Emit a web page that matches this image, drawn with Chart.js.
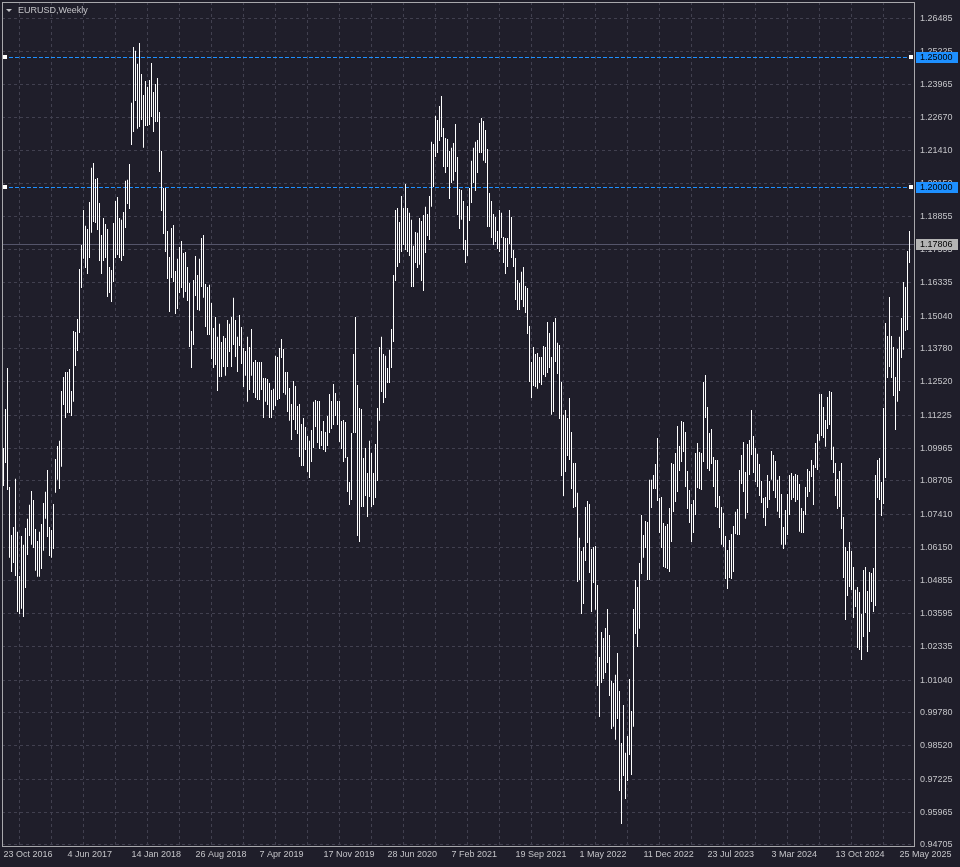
<!DOCTYPE html>
<html>
<head>
<meta charset="utf-8">
<script src="https://cdn.jsdelivr.net/npm/chart.js@4.4.1/dist/chart.umd.min.js"></script>
<style>
  html, body { margin: 0; padding: 0; background: #1f1e2a; overflow: hidden; }
  canvas { display: block; }
</style>
</head>
<body>
<canvas id="eurusdChart" width="960" height="867"></canvas>
<script>
const chartTitle = 'EURUSD,Weekly';

// one label every 32 weekly bars, first bar = week of 23 Oct 2016
const dateLabels = ['23 Oct 2016', '4 Jun 2017', '14 Jan 2018', '26 Aug 2018', '7 Apr 2019',
    '17 Nov 2019', '28 Jun 2020', '7 Feb 2021', '19 Sep 2021', '1 May 2022', '11 Dec 2022',
    '23 Jul 2023', '3 Mar 2024', '13 Oct 2024', '25 May 2025'];

const priceTicks = [1.26485, 1.25225, 1.23965, 1.22670, 1.21410, 1.20150, 1.18855, 1.17595,
    1.16335, 1.15040, 1.13780, 1.12520, 1.11225, 1.09965, 1.08705, 1.07410, 1.06150, 1.04855,
    1.03595, 1.02335, 1.01040, 0.99780, 0.98520, 0.97225, 0.95965, 0.94705];

const levelLines = [1.25000, 1.20000];
const lastPrice = 1.17806;

const weeklyHigh = [
    1.0997, 1.1147, 1.1304, 1.0847, 1.0662, 1.0693, 1.0878, 1.0674, 1.0504, 1.0658,
    1.0624, 1.0689, 1.0724, 1.0778, 1.0831, 1.0797, 1.0685, 1.0639, 1.0674, 1.0704,
    1.0785, 1.0828, 1.0912, 1.0693, 1.0681, 1.0781, 1.0954, 1.1004, 1.1024, 1.1216,
    1.1270, 1.1289, 1.1289, 1.1300, 1.1216, 1.1447, 1.1443, 1.1493, 1.1685, 1.1777,
    1.1912, 1.1851, 1.1839, 1.1943, 1.2074, 1.2093, 1.2031, 1.2035, 1.1939, 1.1816,
    1.1881, 1.1858, 1.1839, 1.1693, 1.1681, 1.1862, 1.1947, 1.1962, 1.1881, 1.1874,
    1.1904, 1.2024, 1.2028, 1.2089, 1.2324, 1.2539, 1.2524, 1.2474, 1.2554, 1.2435,
    1.2354, 1.2408, 1.2385, 1.2412, 1.2477, 1.2366, 1.2397, 1.2420, 1.2289, 1.2139,
    1.1997, 1.1997, 1.1831, 1.1731, 1.1843, 1.1854, 1.1677, 1.1724, 1.1770, 1.1793,
    1.1747, 1.1750, 1.1693, 1.1631, 1.1447, 1.1643, 1.1735, 1.1662, 1.1724, 1.1804,
    1.1816, 1.1627, 1.1616, 1.1624, 1.1554, 1.1458, 1.1500, 1.1424, 1.1474, 1.1404,
    1.1427, 1.1420, 1.1489, 1.1474, 1.1500, 1.1574, 1.1489, 1.1424, 1.1508, 1.1462,
    1.1381, 1.1370, 1.1424, 1.1385, 1.1454, 1.1327, 1.1335, 1.1327, 1.1327, 1.1327,
    1.1266, 1.1266, 1.1262, 1.1247, 1.1220, 1.1224, 1.1351, 1.1347, 1.1381, 1.1416,
    1.1377, 1.1289, 1.1289, 1.1227, 1.1166, 1.1254, 1.1235, 1.1158, 1.1166, 1.1089,
    1.1112, 1.1077, 1.1043, 1.1024, 1.1066, 1.1174, 1.1181, 1.1177, 1.1177, 1.1062,
    1.1100, 1.1058, 1.1120, 1.1204, 1.1177, 1.1243, 1.1208, 1.1177, 1.1177, 1.1100,
    1.1104, 1.1097, 1.0962, 1.0866, 1.1054, 1.1358, 1.1500, 1.1239, 1.1150, 1.1147,
    1.0958, 1.0997, 1.0900, 1.1024, 1.0977, 1.0900, 1.1012, 1.1150, 1.1385, 1.1424,
    1.1358, 1.1351, 1.1304, 1.1374, 1.1454, 1.1662, 1.1912, 1.1920, 1.1866, 1.1966,
    1.1920, 1.2012, 1.1920, 1.1901, 1.1874, 1.1774, 1.1827, 1.1824, 1.1881, 1.1870,
    1.1893, 1.1924, 1.1897, 1.1966, 1.2174, 1.2166, 1.2274, 1.2258, 1.2312, 1.2350,
    1.2227, 1.2189, 1.2185, 1.2139, 1.2151, 1.2170, 1.2243, 1.2116, 1.1993, 1.1989,
    1.1947, 1.1797, 1.1927, 1.1997, 1.2101, 1.2151, 1.2174, 1.2181, 1.2247, 1.2266,
    1.2254, 1.2220, 1.2147, 1.1977, 1.1947, 1.1897, 1.1885, 1.1831, 1.1912, 1.1901,
    1.1808, 1.1804, 1.1804, 1.1912, 1.1885, 1.1758, 1.1727, 1.1643, 1.1631, 1.1674,
    1.1693, 1.1620, 1.1612, 1.1466, 1.1327, 1.1385, 1.1358, 1.1362, 1.1347, 1.1347,
    1.1389, 1.1385, 1.1481, 1.1439, 1.1347, 1.1481, 1.1497, 1.1401, 1.1393, 1.1250,
    1.1124, 1.1143, 1.1112, 1.1189, 1.1058, 1.0939, 1.0939, 1.0824, 1.0651, 1.0600,
    1.0616, 1.0770, 1.0793, 1.0781, 1.0608, 1.0616, 1.0620, 1.0470, 1.0193, 1.0289,
    1.0266, 1.0304, 1.0377, 1.0277, 1.0101, 1.0093, 1.0124, 1.0208, 1.0062, 0.9862,
    1.0008, 0.9824, 0.9889, 1.0108, 0.9985, 1.0377, 1.0489, 1.0462, 1.0554, 1.0739,
    1.0662, 1.0716, 1.0712, 1.0874, 1.0874, 1.0893, 1.0935, 1.1035, 1.0804, 1.0808,
    1.0708, 1.0697, 1.0704, 1.0766, 1.0939, 1.0935, 1.0977, 1.1081, 1.1004, 1.1100,
    1.1097, 1.1058, 1.0908, 1.0835, 1.0781, 1.0797, 1.0977, 1.1016, 1.0981, 1.0977,
    1.1250, 1.1277, 1.1154, 1.1054, 1.1070, 1.0962, 1.0950, 1.0950, 1.0812, 1.0770,
    1.0747, 1.0658, 1.0604, 1.0643, 1.0666, 1.0697, 1.0751, 1.0762, 1.0912, 1.0970,
    1.1020, 1.0904, 1.1012, 1.1027, 1.1143, 1.1043, 1.0997, 1.0974, 1.0935, 1.0870,
    1.0804, 1.0808, 1.0893, 1.0870, 1.0985, 1.0970, 1.0947, 1.0874, 1.0889, 1.0820,
    1.0693, 1.0758, 1.0820, 1.0893, 1.0900, 1.0889, 1.0897, 1.0893, 1.0858, 1.0766,
    1.0754, 1.0847, 1.0916, 1.0908, 1.0950, 1.0931, 1.1016, 1.1050, 1.1204, 1.1204,
    1.1154, 1.1104, 1.1193, 1.1216, 1.1212, 1.1001, 1.0939, 1.0877, 1.0908, 1.0939,
    1.0731, 1.0616, 1.0600, 1.0635, 1.0600, 1.0539, 1.0451, 1.0462, 1.0443, 1.0358,
    1.0527, 1.0539, 1.0447, 1.0520, 1.0516, 1.0535, 1.0893, 1.0950, 1.0958, 1.0866,
    1.1150, 1.1477, 1.1427, 1.1577, 1.1427, 1.1385, 1.1270, 1.1377, 1.1424, 1.1497,
    1.1635, 1.1616, 1.1754, 1.1831
];

const weeklyLow = [
    1.0850, 1.0939, 1.0835, 1.0574, 1.0520, 1.0554, 1.0504, 1.0366, 1.0358, 1.0378,
    1.0347, 1.0458, 1.0585, 1.0658, 1.0624, 1.0612, 1.0524, 1.0501, 1.0501, 1.0531,
    1.0601, 1.0724, 1.0654, 1.0581, 1.0574, 1.0608, 1.0824, 1.0874, 1.0839, 1.0924,
    1.1162, 1.1112, 1.1131, 1.1131, 1.1120, 1.1174, 1.1312, 1.1370, 1.1439, 1.1612,
    1.1724, 1.1689, 1.1666, 1.1727, 1.1824, 1.1866, 1.1862, 1.1835, 1.1716, 1.1666,
    1.1716, 1.1727, 1.1577, 1.1593, 1.1558, 1.1635, 1.1727, 1.1739, 1.1727, 1.1716,
    1.1735, 1.1843, 1.1935, 1.1916, 1.2162, 1.2212, 1.2331, 1.2224, 1.2231, 1.2258,
    1.2151, 1.2235, 1.2235, 1.2239, 1.2270, 1.2212, 1.2250, 1.2250, 1.2058, 1.1908,
    1.1820, 1.1750, 1.1647, 1.1520, 1.1650, 1.1635, 1.1512, 1.1531, 1.1593, 1.1612,
    1.1574, 1.1597, 1.1562, 1.1385, 1.1304, 1.1393, 1.1581, 1.1527, 1.1524, 1.1616,
    1.1574, 1.1462, 1.1431, 1.1431, 1.1339, 1.1304, 1.1316, 1.1216, 1.1270, 1.1270,
    1.1308, 1.1274, 1.1308, 1.1366, 1.1308, 1.1393, 1.1347, 1.1289, 1.1389, 1.1320,
    1.1231, 1.1274, 1.1174, 1.1220, 1.1274, 1.1208, 1.1189, 1.1181, 1.1181, 1.1220,
    1.1112, 1.1174, 1.1162, 1.1112, 1.1112, 1.1143, 1.1158, 1.1181, 1.1185, 1.1343,
    1.1208, 1.1201, 1.1135, 1.1101, 1.1027, 1.1104, 1.1066, 1.1050, 1.0962, 1.0927,
    1.0927, 1.0989, 1.0904, 1.0881, 1.0943, 1.0997, 1.1077, 1.1016, 1.0993, 1.1004,
    1.0989, 1.0981, 1.1004, 1.1054, 1.1070, 1.1085, 1.1120, 1.1085, 1.1020, 1.0993,
    1.0943, 1.0958, 1.0827, 1.0777, 1.0797, 1.1054, 1.1054, 1.0658, 1.0635, 1.0770,
    1.0770, 1.0812, 1.0731, 1.0808, 1.0770, 1.0777, 1.0804, 1.0870, 1.1101, 1.1212,
    1.1170, 1.1189, 1.1247, 1.1247, 1.1304, 1.1404, 1.1639, 1.1693, 1.1708, 1.1750,
    1.1777, 1.1758, 1.1750, 1.1735, 1.1616, 1.1616, 1.1708, 1.1689, 1.1701, 1.1639,
    1.1600, 1.1747, 1.1812, 1.1797, 1.1924, 1.2000, 1.2116, 1.2131, 1.2177, 1.2193,
    1.2077, 1.2054, 1.2077, 1.1954, 1.2016, 1.2024, 1.2058, 1.1893, 1.1839, 1.1874,
    1.1758, 1.1708, 1.1735, 1.1870, 1.1939, 1.2016, 1.1985, 1.2054, 1.2131, 1.2131,
    1.2101, 1.2093, 1.1847, 1.1847, 1.1804, 1.1777, 1.1789, 1.1762, 1.1750, 1.1804,
    1.1708, 1.1666, 1.1693, 1.1781, 1.1727, 1.1693, 1.1566, 1.1527, 1.1527, 1.1566,
    1.1539, 1.1516, 1.1435, 1.1250, 1.1189, 1.1235, 1.1231, 1.1224, 1.1247, 1.1239,
    1.1277, 1.1270, 1.1285, 1.1304, 1.1124, 1.1135, 1.1327, 1.1281, 1.1108, 1.0889,
    1.0812, 1.0904, 1.0966, 1.0950, 1.0839, 1.0766, 1.0770, 1.0481, 1.0489, 1.0358,
    1.0397, 1.0562, 1.0631, 1.0516, 1.0366, 1.0477, 1.0374, 1.0081, 0.9962, 1.0093,
    1.0108, 1.0131, 1.0170, 1.0043, 0.9916, 0.9924, 0.9874, 0.9954, 0.9677, 0.9550,
    0.9735, 0.9647, 0.9716, 0.9816, 0.9739, 0.9924, 1.0281, 1.0231, 1.0301, 1.0512,
    1.0574, 1.0612, 1.0489, 1.0489, 1.0766, 1.0839, 1.0839, 1.0793, 1.0670, 1.0612,
    1.0539, 1.0535, 1.0531, 1.0520, 1.0635, 1.0750, 1.0789, 1.0827, 1.0908, 1.0943,
    1.0981, 1.0847, 1.0762, 1.0708, 1.0635, 1.0670, 1.0739, 1.0843, 1.0839, 1.0835,
    1.0943, 1.1112, 1.0916, 1.0908, 1.0935, 1.0847, 1.0770, 1.0766, 1.0689, 1.0624,
    1.0616, 1.0493, 1.0454, 1.0497, 1.0493, 1.0520, 1.0666, 1.0662, 1.0662, 1.0858,
    1.0827, 1.0724, 1.0747, 1.0893, 1.0970, 1.0900, 1.0866, 1.0847, 1.0812, 1.0785,
    1.0727, 1.0697, 1.0766, 1.0797, 1.0874, 1.0831, 1.0804, 1.0751, 1.0727, 1.0624,
    1.0608, 1.0624, 1.0662, 1.0739, 1.0797, 1.0804, 1.0789, 1.0797, 1.0674, 1.0670,
    1.0670, 1.0739, 1.0808, 1.0827, 1.0885, 1.0777, 1.0920, 1.0912, 1.1024, 1.1043,
    1.1035, 1.1001, 1.1070, 1.1085, 1.0950, 1.0900, 1.0812, 1.0762, 1.0770, 1.0685,
    1.0497, 1.0335, 1.0427, 1.0462, 1.0450, 1.0343, 1.0385, 1.0227, 1.0220, 1.0181,
    1.0270, 1.0362, 1.0212, 1.0289, 1.0404, 1.0366, 1.0389, 1.0804, 1.0797, 1.0735,
    1.0781, 1.0881, 1.1266, 1.1308, 1.1266, 1.1197, 1.1066, 1.1174, 1.1216, 1.1343,
    1.1374, 1.1447, 1.1450, 1.1708
];

const bgColor = '#1f1e2a';
const gridColor = '#41404f';
const frameColor = '#a8a8ac';
const textColor = '#c4c4c8';
const levelColor = '#1e90ff';
const font = { family: 'Liberation Sans', size: 9 };

const barsPerLabel = 32;

const chartDecor = {
    id: 'chartDecor',
    beforeDraw(chart) {
        const { ctx, width, height } = chart;
        ctx.save();
        ctx.fillStyle = bgColor;
        ctx.fillRect(0, 0, width, height);
        ctx.restore();
    },
    beforeDatasetsDraw(chart) {
        const { ctx, chartArea: a, scales: { y } } = chart;
        ctx.save();
        // current price line
        const yp = Math.round(y.getPixelForValue(lastPrice)) + 0.5;
        ctx.strokeStyle = '#55556a';
        ctx.lineWidth = 1;
        ctx.beginPath();
        ctx.moveTo(a.left, yp);
        ctx.lineTo(a.right, yp);
        ctx.stroke();
        // horizontal level lines
        ctx.strokeStyle = levelColor;
        ctx.setLineDash([4, 2]);
        levelLines.forEach(v => {
            const ly = Math.round(y.getPixelForValue(v)) + 0.5;
            ctx.beginPath();
            ctx.moveTo(a.left + 1, ly);
            ctx.lineTo(a.right - 1, ly);
            ctx.stroke();
        });
        ctx.restore();
    },
    afterDraw(chart) {
        const { ctx, chartArea: a, scales: { y } } = chart;
        ctx.save();
        // frame
        ctx.strokeStyle = frameColor;
        ctx.lineWidth = 1;
        ctx.strokeRect(a.left + 0.5, a.top + 0.5, a.right - a.left, a.bottom - a.top);

        // level handles + price boxes
        ctx.font = '9px "Liberation Sans"';
        ctx.textBaseline = 'middle';
        levelLines.forEach(v => {
            const ly = Math.round(y.getPixelForValue(v));
            ctx.fillStyle = '#ffffff';
            ctx.fillRect(a.left + 1, ly - 2, 4, 4);
            ctx.fillRect(a.right - 5, ly - 2, 4, 4);
            ctx.fillStyle = levelColor;
            ctx.fillRect(a.right + 2, ly - 5, 42, 11);
            ctx.fillStyle = '#000000';
            ctx.fillText(v.toFixed(5), a.right + 6, ly + 0.5);
        });
        const cy = Math.round(y.getPixelForValue(lastPrice));
        ctx.fillStyle = '#b4b4b4';
        ctx.fillRect(a.right + 2, cy - 5, 42, 11);
        ctx.fillStyle = '#000000';
        ctx.fillText(lastPrice.toFixed(5), a.right + 6, cy + 0.5);

        // title
        ctx.fillStyle = textColor;
        ctx.beginPath();
        ctx.moveTo(6, 9);
        ctx.lineTo(12, 9);
        ctx.lineTo(9, 12);
        ctx.closePath();
        ctx.fill();
        ctx.textBaseline = 'middle';
        ctx.fillText(chartTitle, 18, 10.5);
        ctx.restore();
    }
};

const barData = weeklyLow.map((low, i) => ({ x: i, y: [low, weeklyHigh[i]] }));

new Chart(document.getElementById('eurusdChart'), {
    type: 'bar',
    data: {
        datasets: [{
            label: chartTitle,
            data: barData,
            backgroundColor: '#ffffff',
            borderWidth: 0,
            barThickness: 1,
            inflateAmount: 0,
            grouped: false
        }]
    },
    options: {
        responsive: false,
        animation: false,
        devicePixelRatio: 1,
        layout: { padding: { left: 2, top: 2, right: 0, bottom: 0 } },
        plugins: { legend: { display: false }, tooltip: { enabled: false } },
        scales: {
            x: {
                type: 'linear',
                min: -0.75,
                max: 455.25,
                offset: false,
                grid: { color: gridColor, drawTicks: false },
                border: { display: false, dash: [3, 3] },
                ticks: {
                    color: textColor,
                    font: font,
                    align: 'start',
                    autoSkip: false,
                    maxRotation: 0,
                    padding: 3,
                    callback: v => (v % barsPerLabel === 0 ? dateLabels[v / barsPerLabel] : '')
                },
                afterBuildTicks: scale => {
                    const t = [];
                    for (let i = 0; i <= (dateLabels.length - 1) * barsPerLabel; i += barsPerLabel / 2) t.push({ value: i });
                    scale.ticks = t;
                },
                afterFit: scale => {
                    scale.height = 21;
                    scale.paddingLeft = 0;
                    scale.paddingRight = 0;
                }
            },
            y: {
                position: 'right',
                min: 0.946581,
                max: 1.271196,
                grid: { color: gridColor, drawTicks: false },
                border: { display: false, dash: [3, 3] },
                ticks: {
                    color: textColor,
                    font: font,
                    padding: 6,
                    callback: v => v.toFixed(5)
                },
                afterBuildTicks: scale => {
                    scale.ticks = priceTicks.map(v => ({ value: v }));
                },
                afterFit: scale => {
                    scale.width = 46;
                    scale.paddingTop = 0;
                    scale.paddingBottom = 0;
                }
            }
        }
    },
    plugins: [chartDecor]
});
</script>
</body>
</html>
